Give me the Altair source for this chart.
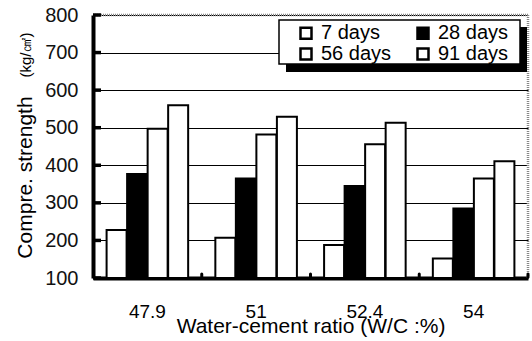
import altair as alt
import pandas as pd

# Water-cement ratio groups and curing ages
ratios = ["47.9", "51", "52.4", "54"]
ages = ["7 days", "28 days", "56 days", "91 days"]

# Compressive strength (kg/cm2) per curing age, one value per ratio
s7 = [228, 207, 188, 152]
s28 = [377, 365, 345, 285]
s56 = [497, 482, 456, 365]
s91 = [560, 529, 513, 411]

y_ticks = [100, 200, 300, 400, 500, 600, 700, 800]
y_title = "Compre. strength"
y_unit = "(kg/㎠)"

rows = []
for age, vals in zip(ages, [s7, s28, s56, s91]):
    for r, v in zip(ratios, vals):
        rows.append({"ratio": r, "age": age, "strength": v})
df = pd.DataFrame(rows)

FONT = "Liberation Sans"
W, H = 435, 263

x_scale = alt.Scale(domain=ratios, paddingInner=0, paddingOuter=0)
y_scale = alt.Scale(domain=[100, 800], nice=False, zero=False)

# one axis definition per direction, shared by every layer
x_axis = alt.Axis(title="Water-cement ratio (W/C :%)", labelAngle=0,
                  labelFont=FONT, labelFontSize=19, labelColor="black",
                  labelBaseline="alphabetic", labelPadding=39, ticks=False,
                  domainColor="black", domainWidth=4,
                  titleFont=FONT, titleFontSize=21, titleFontWeight="normal",
                  titleColor="black", titleY=54, titleBaseline="alphabetic")
y_axis = alt.Axis(title=y_title, values=y_ticks, labelOverlap=False,
                  labelFont=FONT, labelFontSize=20, labelColor="#111111",
                  labelPadding=15, ticks=False,
                  domainColor="black", domainWidth=4,
                  grid=True, gridColor="black", gridWidth=1, gridOpacity=1,
                  titleFont=FONT, titleFontSize=21, titleFontWeight="normal",
                  titleColor="black", titleAngle=270, titleX=-62, titleY=162,
                  titleAlign="center", titleBaseline="alphabetic")

bars = alt.Chart(df).mark_bar(stroke="black", strokeWidth=2, size=20).encode(
    x=alt.X("ratio:N", scale=x_scale, sort=ratios, axis=x_axis),
    xOffset=alt.XOffset("age:N", sort=ages,
                        scale=alt.Scale(domain=ages, paddingInner=0, paddingOuter=0.65)),
    y=alt.Y("strength:Q", scale=y_scale, axis=y_axis),
    y2=alt.datum(100),
    fill=alt.Fill("age:N", sort=ages,
                  scale=alt.Scale(domain=ages, range=["white", "black", "white", "white"]),
                  legend=alt.Legend(title=None, orient="none", legendX=203, legendY=8,
                                    direction="horizontal", columns=2,
                                    columnPadding=20, rowPadding=-3,
                                    symbolType="square", symbolSize=121,
                                    symbolStrokeColor="black", symbolStrokeWidth=2.5,
                                    labelFont=FONT, labelFontSize=20, labelColor="black",
                                    labelOffset=5, padding=0)),
)

# unit part of the value-axis title, set smaller
unit = alt.Chart(pd.DataFrame({"t": [y_unit]})).mark_text(
    angle=270, font=FONT, fontSize=15, color="black", align="center", baseline="alphabetic"
).encode(text="t:N", x=alt.value(-62), y=alt.value(40))

# dotted frame on the top and right of the plot area
tick_df = pd.DataFrame({"v": y_ticks})
top_border = alt.Chart(pd.DataFrame({"v": [800]})).mark_rule(
    color="#888888", strokeWidth=2.5, strokeDash=[1, 1]
).encode(y=alt.Y("v:Q", scale=y_scale, axis=y_axis), x=alt.value(0), x2=alt.value(W))
right_border = alt.Chart(pd.DataFrame({"v": [800]})).mark_rule(
    color="#888888", strokeWidth=2.5, strokeDash=[1, 1]
).encode(x=alt.value(W), y=alt.value(0), y2=alt.value(H))

# inward tick stubs on the value axis
y_stubs = alt.Chart(tick_df).mark_rule(color="black", strokeWidth=3.5).encode(
    y=alt.Y("v:Q", scale=y_scale, axis=y_axis), x=alt.value(0), x2=alt.value(8)
)

# small marks between ratio groups on the category axis
x_bumps = alt.Chart(pd.DataFrame({"ratio": ratios})).mark_rule(
    color="black", strokeWidth=3, strokeCap="round"
).encode(x=alt.X("ratio:N", scale=x_scale, sort=ratios, bandPosition=1, axis=x_axis),
         y=alt.value(H - 1), y2=alt.value(H - 4))

# legend frame with drop shadow
shadow = alt.Chart(pd.DataFrame({"v": [0]})).mark_rect(color="black").encode(
    x=alt.value(193), x2=alt.value(434), y=alt.value(12), y2=alt.value(57)
)
frame = alt.Chart(pd.DataFrame({"v": [0]})).mark_rect(
    fill="white", stroke="black", strokeWidth=1.5
).encode(x=alt.value(186), x2=alt.value(427), y=alt.value(5), y2=alt.value(49))

chart = alt.layer(bars, top_border, right_border, y_stubs, x_bumps, shadow, frame, unit).properties(
    width=W, height=H,
    padding={"left": 93, "top": 15, "right": 4, "bottom": 63},
    autosize=alt.AutoSizeParams(type="none"),
    background="white",
).configure_view(stroke=None)

chart.save("out.html", embed_options={"renderer": "svg", "actions": False})
